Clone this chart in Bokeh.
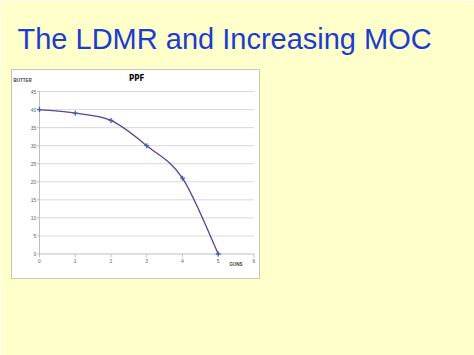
import numpy as np
from bokeh.plotting import figure
from bokeh.models import Title, ColumnDataSource
from bokeh.core.properties import value
from bokeh.embed import file_html
from bokeh.resources import INLINE

# data
guns = [0, 1, 2, 3, 4, 5]
butter = [40, 39, 37, 30, 21, 0]
x_ticks = [0, 1, 2, 3, 4, 5, 6]
y_ticks = [0, 5, 10, 15, 20, 25, 30, 35, 40, 45]
chart_title = "PPF"
x_label = "GUNS"
y_label = "BUTTER"
slide_title = "The LDMR and Increasing MOC"

BG = "#FFFFCC"
p = figure(width=474, height=355, output_backend="svg", toolbar_location=None,
           x_range=(-0.783, 6.154), y_range=(-6.79, 51.1),
           x_axis_location=None, y_axis_location=None,
           min_border_left=11, min_border_right=215, min_border_top=69, min_border_bottom=77,
           background_fill_color="white", border_fill_color=BG,
           outline_line_color="#c8c8b0", outline_line_width=1)
p.grid.visible = False

t = Title(text=slide_title, text_font="Liberation Sans", text_font_size="29px",
          text_font_style="normal", text_color="#1C3CCF", align="left", offset=6, standoff=30)
p.add_layout(t, "above")

# gridlines
gy = [v for v in y_ticks if v > 0]
p.segment(x0=[x_ticks[0]] * len(gy), x1=[x_ticks[-1]] * len(gy), y0=gy, y1=gy,
          line_color="#d9d9d9", line_width=1)
# axes lines
p.segment(x0=[x_ticks[0]], x1=[x_ticks[-1]], y0=[0], y1=[0], line_color="#bfbfbf", line_width=1)
p.segment(x0=[0], x1=[0], y0=[0], y1=[y_ticks[-1]], line_color="#bfbfbf", line_width=1)
# tick marks
p.segment(x0=x_ticks, x1=x_ticks, y0=[0] * len(x_ticks), y1=[-0.9] * len(x_ticks), line_color="#bfbfbf")
p.segment(x0=[0] * len(y_ticks), x1=[-0.07] * len(y_ticks), y0=y_ticks, y1=y_ticks, line_color="#bfbfbf")

# tick labels
p.text(x=[-0.09] * len(y_ticks), y=y_ticks, text=[str(v) for v in y_ticks],
       text_font=value("Liberation Sans"), text_font_size="5px", text_color="#606060",
       text_align="right", text_baseline="middle")
p.text(x=x_ticks, y=[-1.9] * len(x_ticks), text=[str(v) for v in x_ticks],
       text_font=value("Liberation Sans"), text_font_size="5px", text_color="#606060",
       text_align="center", text_baseline="middle")

# axis titles and chart title
p.text(x=[-0.47], y=[48.0], text=[y_label], text_font=value("Liberation Sans"),
       text_font_size="4.5px", text_font_style="bold", text_color="#404040",
       text_align="center", text_baseline="middle")
p.text(x=[5.5], y=[-3.0], text=[x_label], text_font=value("Liberation Sans"),
       text_font_size="4.5px", text_font_style="bold", text_color="#404040",
       text_align="center", text_baseline="middle")
p.text(x=[2.72], y=[48.6], text=[chart_title], text_font=value("DejaVu Sans Condensed"),
       text_font_size="8px", text_font_style="bold", text_color="#000000",
       text_align="center", text_baseline="middle")

# smoothed line (Catmull-Rom style bezier through the data points)
xs = np.array(guns, dtype=float)
ys = np.array(butter, dtype=float)
n = len(xs)
xp = np.concatenate([[xs[0]], xs, [xs[-1]]])
yp = np.concatenate([[ys[0]], ys, [ys[-1]]])
cx0 = xs[:-1] + (xp[2:n + 1] - xp[0:n - 1]) / 6
cy0 = ys[:-1] + (yp[2:n + 1] - yp[0:n - 1]) / 6
cx1 = xs[1:] - (xp[3:n + 2] - xp[1:n]) / 6
cy1 = ys[1:] - (yp[3:n + 2] - yp[1:n]) / 6
src = ColumnDataSource(dict(x0=xs[:-1], y0=ys[:-1], x1=xs[1:], y1=ys[1:],
                            cx0=cx0, cy0=cy0, cx1=cx1, cy1=cy1))
p.bezier(x0="x0", y0="y0", x1="x1", y1="y1", cx0="cx0", cy0="cy0", cx1="cx1", cy1="cy1",
         source=src, line_color="#5B3F9A", line_width=1.3)
p.scatter(x=guns, y=butter, marker="cross", size=5, line_color="#3F5FB8", line_width=1.3)

open("out.html", "w").write(file_html(p, INLINE))
